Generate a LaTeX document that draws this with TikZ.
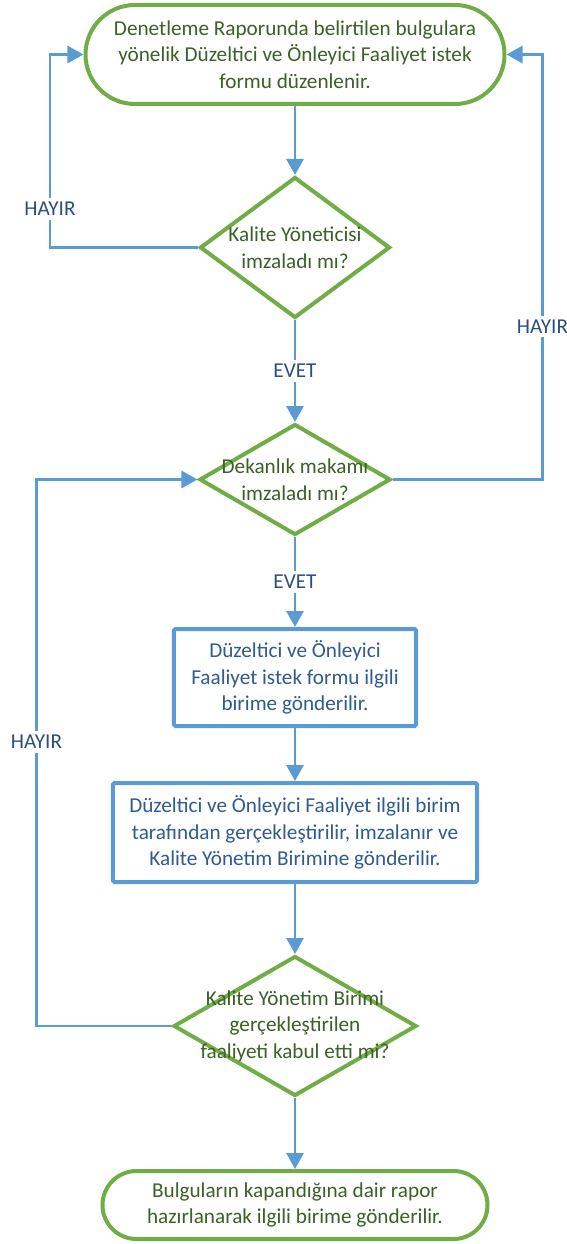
\documentclass[tikz,border=0pt]{standalone}
\usepackage{fontspec}
\setmainfont{Carlito}
\usepackage{xcolor}
\usetikzlibrary{positioning}
\usetikzlibrary{shapes.geometric,shapes.misc,arrows.meta}
\definecolor{flowGreen}{HTML}{70AD47}
\definecolor{flowBlue}{HTML}{5B9BD5}
\definecolor{greenText}{HTML}{3B6127}
\definecolor{blueText}{HTML}{2F5C8E}
\definecolor{answerText}{HTML}{2B4F7E}
\tikzset{%
  % ---
  % shapes
  % ---
  startStop/.style={rounded rectangle, draw=flowGreen, fill=white, line width=4pt, text=greenText, inner sep=0pt, align=center},% begin or end
  decision/.style={diamond, draw=flowGreen, fill=white, line width=4pt, inner sep=0pt},% question
  decisionText/.style={text=greenText, align=center},
  process/.style={rectangle, draw=flowBlue, fill=white, line width=4pt, rounded corners=1.5pt, text=blueText, inner sep=0pt, align=center},% work step
  % ---
  % lines
  % ---
  flow/.style={draw=flowBlue, line width=2.8pt, -{Triangle[length=16pt,width=17pt]}},
  answer/.style={fill=white, text=answerText, inner sep=4pt}}

\begin{document}
\begin{tikzpicture}[font=\fontsize{21.2}{26.5}\selectfont]
    \useasboundingbox (-295pt,54.5pt) rectangle (271pt,-1189.5pt);

    %Nodes
    \node[startStop, minimum width=419pt, minimum height=99pt] (start) at (0,0) {Denetleme Raporunda belirtilen bulgulara\\yönelik Düzeltici ve Önleyici Faaliyet istek\\formu düzenlenir.};
    \node[decision, minimum width=190pt, minimum height=141pt, label={[decisionText]center:{Kalite Yöneticisi\\imzaladı mı?}}] (qualityMgr) [below=69pt of start] {};
    \node[decision, minimum width=191pt, minimum height=111pt, label={[decisionText]center:{Dekanlık makamı\\imzaladı mı?}}] (dean) [below=102pt of qualityMgr] {};
    \node[process, minimum width=242pt, minimum height=97pt] (sendForm) [below=90pt of dean] {Düzeltici ve Önleyici\\Faaliyet istek formu ilgili\\birime gönderilir.};
    \node[process, minimum width=364pt, minimum height=99pt] (doAction) [below=53pt of sendForm] {Düzeltici ve Önleyici Faaliyet ilgili birim\\tarafından gerçekleştirilir, imzalanır ve\\Kalite Yönetim Birimine gönderilir.};
    \node[decision, minimum width=243pt, minimum height=140pt, label={[decisionText]center:{Kalite Yönetim Birimi\\gerçekleştirilen\\faaliyeti kabul etti mi?}}] (accepted) [below=70pt of doAction] {};
    \node[startStop, minimum width=385pt, minimum height=68pt] (stop) [below=71pt of accepted] {Bulguların kapandığına dair rapor\\hazırlanarak ilgili birime gönderilir.};

    %Lines
    \draw[flow] (start.south) -- (qualityMgr.north);
    \draw[flow] (qualityMgr.south) -- node[answer]{EVET} (dean.north);
    \draw[flow] (dean.south) -- node[answer]{EVET} (sendForm.north);
    \draw[flow] (sendForm.south) -- (doAction.north);
    \draw[flow] (doAction.south) -- (accepted.north);
    \draw[flow] (accepted.south) -- (stop.north);
    \draw[flow] (qualityMgr.west) -- ++(-148pt,0) |- node[answer,pos=0.1]{HAYIR} (start.west);
    \draw[flow] (dean.east) -- ++(150pt,0) |- node[answer,pos=0.18]{HAYIR} (start.east);
    \draw[flow] (accepted.west) -- ++(-135pt,0) |- node[answer,pos=0.26]{HAYIR} (dean.west);
\end{tikzpicture}
\end{document}
